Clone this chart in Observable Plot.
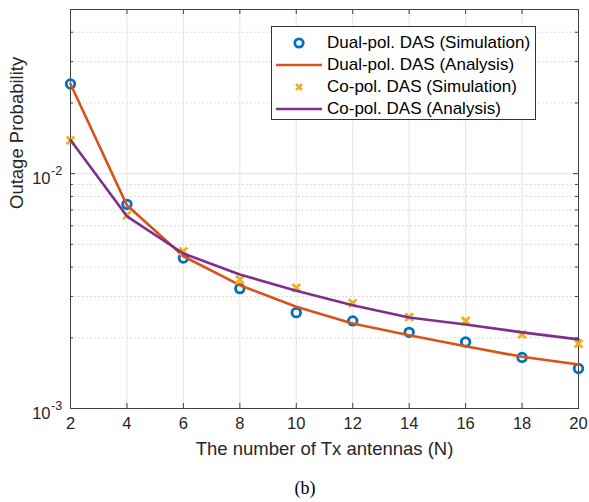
<!DOCTYPE html>
<html><head><meta charset="utf-8">
<script src="https://cdn.jsdelivr.net/npm/d3@7"></script>
<script src="https://cdn.jsdelivr.net/npm/@observablehq/plot@0.6"></script>
<style>
body{margin:0;background:#fff;font-family:"Liberation Sans",Arial,sans-serif;}
#wrap{position:relative;width:589px;height:502px;overflow:hidden;}
#legend{position:absolute;left:271px;top:26px;width:265px;height:94px;border:1px solid #333;background:#fff;box-sizing:border-box;font-size:17px;color:#000;}
.row{position:absolute;left:0;height:22px;line-height:22px;width:100%;}
.row svg{position:absolute;left:4px;top:0;}
.row span{position:absolute;left:55px;top:0;white-space:nowrap;}
#cap{position:absolute;left:305px;top:475px;transform:translateX(-50%);font-family:"Liberation Serif","Times New Roman",serif;font-size:18px;line-height:26px;color:#000;}
</style></head>
<body><div id="wrap"><div id="chart"></div><div id="legend"></div><div id="cap">(b)</div></div>
<script>
const N = [2, 4, 6, 8, 10, 12, 14, 16, 18, 20];
const dualSim = [0.0241, 0.0074, 0.00437, 0.00324, 0.00256, 0.00236, 0.00211, 0.00192, 0.00165, 0.00148];
const dualAna = [0.0241, 0.00733, 0.00445, 0.00335, 0.00271, 0.0023, 0.00205, 0.00184, 0.00166, 0.00154];
const coSim = [0.01386, 0.00665, 0.00467, 0.00354, 0.00326, 0.00281, 0.00245, 0.00236, 0.00207, 0.00189];
const coAna = [0.0139, 0.00658, 0.00457, 0.00372, 0.00317, 0.00275, 0.00244, 0.00228, 0.00211, 0.00197];
const seriesNames = ["Dual-pol. DAS (Simulation)", "Dual-pol. DAS (Analysis)", "Co-pol. DAS (Simulation)", "Co-pol. DAS (Analysis)"];
const colors = ["#0072BD", "#D95319", "#EDB120", "#7E2F8E"];
const xTicks = [2, 4, 6, 8, 10, 12, 14, 16, 18, 20];
const yMajor = [0.001, 0.01];
const yExp = ["-3", "-2"];
const yMinor = [0.002, 0.003, 0.004, 0.005, 0.006, 0.007, 0.008, 0.009, 0.02, 0.03, 0.04];
const xLabel = "The number of Tx antennas (N)";
const yLabel = "Outage Probability";

const W = 589, H = 475, mL = 70, mR = 11, mT = 9, mB = 67;
const pw = W - mL - mR, ph = H - mT - mB;
const mk = arr => N.map((n, i) => ({n, v: arr[i]}));

const plot = Plot.plot({
  width: W, height: H,
  marginLeft: mL, marginRight: mR, marginTop: mT, marginBottom: mB,
  style: {fontFamily: "'Liberation Sans', Arial, sans-serif", fontSize: "16.5px", color: "#262626", background: "#fff"},
  x: {domain: [2, 20], axis: null},
  y: {type: "log", domain: [0.001, 0.05], axis: null},
  marks: [
    Plot.ruleY(yMinor, {y: d => d, stroke: "#cfcfcf", strokeDasharray: "1.5,2.5"}),
    Plot.ruleX(xTicks, {x: d => d, stroke: "#e4e4e4"}),
    Plot.ruleY(yMajor, {y: d => d, stroke: "#e4e4e4"}),
    Plot.tickX(xTicks, {x: d => d, insetTop: ph - 5, stroke: "#404040"}),
    Plot.tickX(xTicks, {x: d => d, insetBottom: ph - 5, stroke: "#404040"}),
    Plot.tickY(yMajor, {y: d => d, insetRight: pw - 5, stroke: "#404040"}),
    Plot.tickY(yMajor, {y: d => d, insetLeft: pw - 5, stroke: "#404040"}),
    Plot.tickY(yMinor, {y: d => d, insetRight: pw - 3, stroke: "#404040"}),
    Plot.tickY(yMinor, {y: d => d, insetLeft: pw - 3, stroke: "#404040"}),
    Plot.frame({stroke: "#404040"}),
    Plot.text(xTicks, {x: d => d, frameAnchor: "bottom", dy: 20, text: d => String(d), fontSize: 16.5, fill: "#262626"}),
    Plot.text(yMajor, {y: d => d, frameAnchor: "left", dx: -20, dy: 5, textAnchor: "end", text: d => "10", fontSize: 16.5, fill: "#262626"}),
    Plot.text(yMajor, {y: d => d, frameAnchor: "left", dx: -19.5, dy: -3, textAnchor: "start", text: (d, i) => yExp[i], fontSize: 12.5, fill: "#262626"}),
    Plot.text([xLabel], {frameAnchor: "bottom", dy: 46, text: d => d, fontSize: 18.5, fill: "#262626"}),
    Plot.text([yLabel], {frameAnchor: "left", dx: -53, rotate: -90, text: d => d, fontSize: 18.5, fill: "#262626"}),
    Plot.dot(mk(dualSim), {x: "n", y: "v", r: 4.3, stroke: colors[0], strokeWidth: 2.8, fill: "none"}),
    Plot.line(mk(dualAna), {x: "n", y: "v", stroke: colors[1], strokeWidth: 2.6}),
    Plot.dot(mk(coSim), {x: "n", y: "v", symbol: "times", r: 3.6, stroke: colors[2], strokeWidth: 2.8}),
    Plot.line(mk(coAna), {x: "n", y: "v", stroke: colors[3], strokeWidth: 2.6})
  ]
});
document.getElementById("chart").appendChild(plot);

const leg = document.getElementById("legend");
const centers = [15.5, 37.5, 60, 82];
seriesNames.forEach((name, i) => {
  const row = document.createElement("div");
  row.className = "row";
  row.style.top = (centers[i] - 11) + "px";
  let sw;
  if (i === 0) sw = `<circle cx="23" cy="11" r="4.2" fill="none" stroke="${colors[0]}" stroke-width="2.8"/>`;
  else if (i === 2) sw = `<path d="M20 8L26 14M26 8L20 14" stroke="${colors[2]}" stroke-width="2.6"/>`;
  else sw = `<line x1="0" x2="46" y1="11" y2="11" stroke="${colors[i]}" stroke-width="2.6"/>`;
  row.innerHTML = `<svg width="46" height="22">${sw}</svg><span>${name}</span>`;
  leg.appendChild(row);
});
</script>
</body></html>
